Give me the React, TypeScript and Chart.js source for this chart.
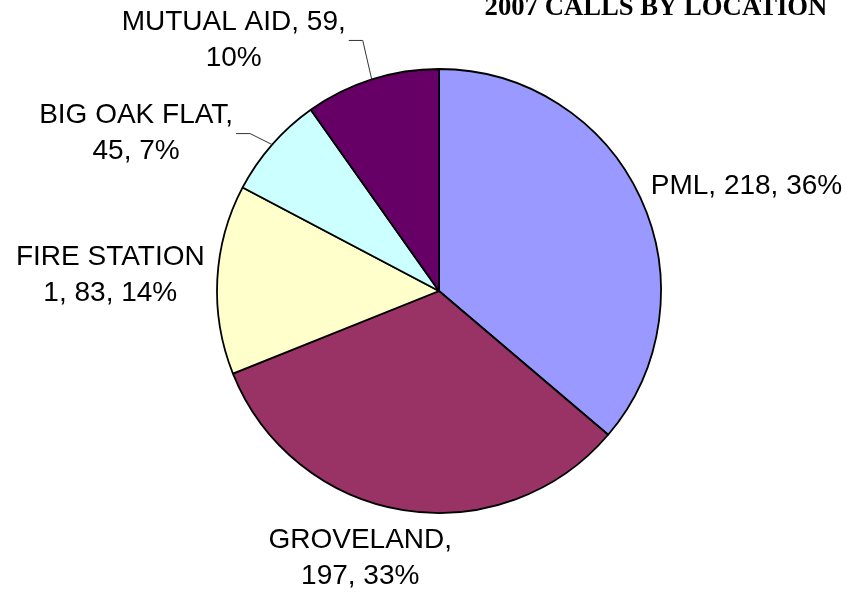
import React, { useEffect, useRef } from "react";
import { Chart, registerables } from "chart.js";

Chart.register(...registerables);

const categories = ["PML", "GROVELAND", "FIRE STATION 1", "BIG OAK FLAT", "MUTUAL AID"];
const calls = [218, 197, 83, 45, 59];
const sliceColors = ["#9999FF", "#993366", "#FFFFCC", "#CCFFFF", "#660066"];
const chartTitle = "2007 CALLS BY LOCATION";
// how many words go on the first line of each label (0 = single line)
const labelBreakAfterWords = [0, 1, 2, 3, 3];
// label block centre offset from the slice's outer mid point
const labelOffsets: [number, number][] = [
  [106, -12],
  [-43, 48],
  [-107, -4],
  [-136, -11],
  [-138, -39],
];
const labelLeaders = [false, false, false, true, true];

const labelPlugin = {
  id: "pieLabels",
  afterDraw(chart: any) {
    const ctx = chart.ctx;
    const meta = chart.getDatasetMeta(0);
    const total = calls.reduce((a, b) => a + b, 0);
    ctx.save();
    ctx.font = '28px "Liberation Sans", Arial, sans-serif';
    ctx.fillStyle = "#000";
    ctx.textAlign = "center";
    ctx.textBaseline = "middle";
    meta.data.forEach((arc: any, i: number) => {
      const { x, y, startAngle, endAngle, outerRadius } = arc.getProps(
        ["x", "y", "startAngle", "endAngle", "outerRadius"],
        true
      );
      const mid = (startAngle + endAngle) / 2;
      const ex = x + Math.cos(mid) * outerRadius;
      const ey = y + Math.sin(mid) * outerRadius;
      const pct = Math.round((calls[i] / total) * 100);
      const full = `${categories[i]}, ${calls[i]}, ${pct}%`;
      const words = full.split(" ");
      const n = labelBreakAfterWords[i];
      const lines = n ? [words.slice(0, n).join(" "), words.slice(n).join(" ")] : [full];
      const cx = ex + labelOffsets[i][0];
      const cy = ey + labelOffsets[i][1];
      const lh = 36;
      lines.forEach((ln, k) => {
        ctx.fillText(ln, cx, cy + (k - (lines.length - 1) / 2) * lh);
      });
      if (labelLeaders[i]) {
        const maxW = Math.max(...lines.map((l) => ctx.measureText(l).width));
        const sx = cx + maxW / 2 + 3;
        ctx.beginPath();
        ctx.strokeStyle = "#333";
        ctx.lineWidth = 1;
        ctx.moveTo(sx, cy);
        ctx.lineTo(sx + 14, cy);
        ctx.lineTo(ex, ey);
        ctx.stroke();
      }
    });
    ctx.font = 'bold 26.7px "Liberation Serif", "Times New Roman", serif';
    ctx.textAlign = "center";
    ctx.textBaseline = "alphabetic";
    ctx.fillText(chartTitle, 656, 15);
    ctx.restore();
  },
};

export default function App() {
  const ref = useRef<HTMLCanvasElement | null>(null);
  useEffect(() => {
    if (!ref.current) return;
    const chart = new Chart(ref.current, {
      type: "pie",
      data: {
        labels: categories,
        datasets: [
          {
            data: calls,
            backgroundColor: sliceColors,
            borderColor: "#000",
            borderWidth: 1.8,
          },
        ],
      },
      options: {
        responsive: false,
        animation: false,
        events: [],
        radius: 222,
        layout: { padding: { left: 15, right: 0, top: 0, bottom: 16 } },
        plugins: {
          legend: { display: false },
          tooltip: { enabled: false },
          title: { display: false },
        },
      } as any,
      plugins: [labelPlugin],
    });
    return () => chart.destroy();
  }, []);
  return (
    <div style={{ position: "fixed", left: 0, top: 0, width: 863, height: 598, background: "#fff" }}>
      <canvas ref={ref} width={863} height={598} />
    </div>
  );
}
